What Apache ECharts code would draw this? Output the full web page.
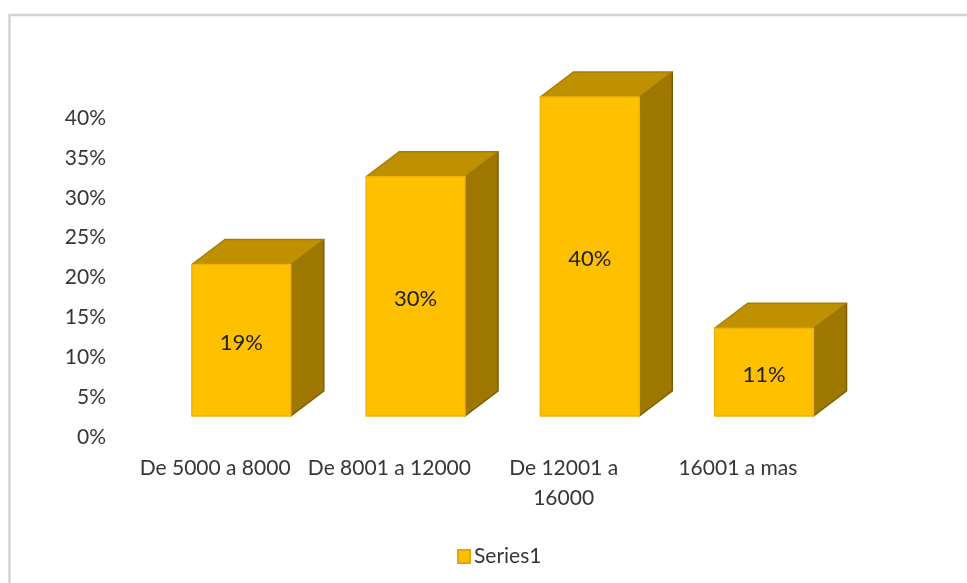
<!DOCTYPE html>
<html>
<head>
<meta charset="utf-8">
<style>html,body{margin:0;padding:0;background:#fff}#c{width:967px;height:583px}</style>
<script src="https://cdn.jsdelivr.net/npm/echarts@6/dist/echarts.min.js"></script>
</head>
<body>
<div id="c"></div>
<script>
const categories = ['De 5000 a 8000', 'De 8001 a 12000', 'De 12001 a\n16000', '16001 a mas'];
const values = [19, 30, 40, 11];
const ticks = { min: 0, max: 40, interval: 5 };
const seriesName = 'Series1';

const FONT = 'Lato';
const TEXT = '#363636';
const FLOOR_DY = -21, SHIFT_X = 26.2, BAR_W = 99, DEPTH_X = 33, DEPTH_Y = -25;

function renderBar(params, api) {
  const i = api.value(0), v = api.value(1);
  const top = api.coord([i, v]), base = api.coord([i, 0]);
  const x0 = top[0] + SHIFT_X - BAR_W / 2, x1 = x0 + BAR_W;
  const y1 = top[1] + FLOOR_DY, y0 = base[1] + FLOOR_DY;
  const poly = (points, fill, stroke) => ({
    type: 'polygon', shape: { points },
    style: { fill, stroke, lineWidth: 1.4, lineJoin: 'round' }
  });
  return {
    type: 'group',
    children: [
      poly([[x1, y1], [x1 + DEPTH_X, y1 + DEPTH_Y], [x1 + DEPTH_X, y0 + DEPTH_Y], [x1, y0]], '#9D7700', '#7A5C00'),
      poly([[x0, y1], [x0 + DEPTH_X, y1 + DEPTH_Y], [x1 + DEPTH_X, y1 + DEPTH_Y], [x1, y1]], '#BF9000', '#A67D00'),
      poly([[x0, y1], [x1, y1], [x1, y0], [x0, y0]], '#FFC000', '#EDB20C'),
      {
        type: 'text',
        style: {
          text: v + '%', x: (x0 + x1) / 2, y: (y0 + y1) / 2 + 2.5,
          align: 'center', verticalAlign: 'middle',
          font: '22px ' + FONT, fill: '#222222'
        }
      }
    ]
  };
}

const chart = echarts.init(document.getElementById('c'), null, { renderer: 'canvas' });
chart.setOption({
  animation: false,
  backgroundColor: '#ffffff',
  textStyle: { fontFamily: FONT },
  graphic: [{
    type: 'polyline',
    shape: { points: [[9.5, 583], [9.5, 15], [967, 15]] },
    style: { fill: 'none', stroke: '#d2d2d2', lineWidth: 2.4 }
  }],
  grid: { left: 128, top: 118, width: 697, height: 319 },
  legend: {
    show: true, left: 452, top: 541, icon: 'rect',
    itemWidth: 12, itemHeight: 13, itemGap: 4,
    data: [seriesName],
    textStyle: { fontFamily: FONT, fontSize: 21, color: TEXT, padding: [0, 0, 0, -1] }
  },
  xAxis: {
    type: 'category', data: categories,
    axisLine: { show: false }, axisTick: { show: false }, splitLine: { show: false },
    axisLabel: { interval: 0, fontFamily: FONT, fontSize: 21, color: TEXT, margin: 16, lineHeight: 30, hideOverlap: false }
  },
  yAxis: {
    type: 'value', min: ticks.min, max: ticks.max, interval: ticks.interval,
    axisLine: { show: false }, axisTick: { show: false }, splitLine: { show: false },
    axisLabel: { formatter: '{value}%', fontFamily: FONT, fontSize: 21, color: TEXT, margin: 22, padding: [4, 0, 0, 0] }
  },
  series: [{
    type: 'custom', name: seriesName,
    coordinateSystem: 'cartesian2d',
    itemStyle: { color: '#FFC000', borderColor: '#E0A800', borderWidth: 1 },
    encode: { x: 0, y: 1 },
    renderItem: renderBar,
    data: values.map((v, i) => [i, v])
  }]
});
</script>
</body>
</html>
